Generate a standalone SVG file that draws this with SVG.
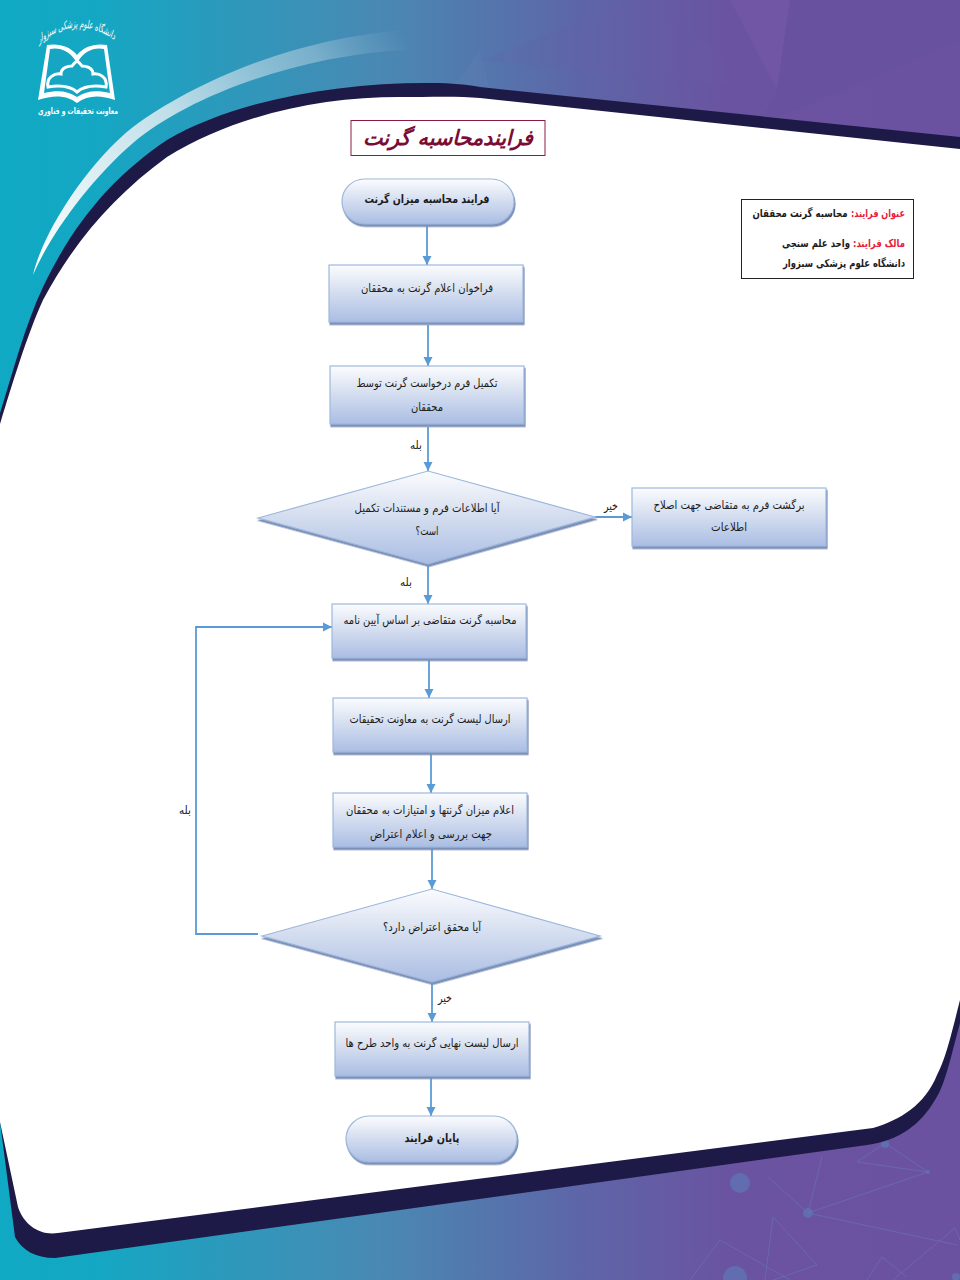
<svg xmlns="http://www.w3.org/2000/svg" width="960" height="1280" viewBox="0 0 960 1280">
<style>
text{font-family:"DejaVu Sans","Noto Sans",sans-serif;direction:rtl;text-anchor:middle;fill:#1c1c1c;font-size:11.5px}
.b{font-weight:bold}
.box{fill:url(#nodeFill);stroke:#9db8dc;stroke-width:1.2;filter:url(#sh)}
.conn{fill:none;stroke:#5b9bd5;stroke-width:1.8}
.arrow{marker-end:url(#ah)}
.net{fill:none;stroke:#6a70b4;stroke-width:1;opacity:.7}
.dot{fill:#5f73b5;opacity:.8}
.info{font-weight:bold;font-size:11px}
.red{fill:#e8203a}
</style>
<defs>
<linearGradient id="bg" x1="0" x2="960" y1="0" y2="0" gradientUnits="userSpaceOnUse">
<stop offset="0" stop-color="#10a9c4"/><stop offset=".1" stop-color="#14a7c3"/><stop offset=".4" stop-color="#4a88b3"/><stop offset=".6" stop-color="#5d66a8"/><stop offset=".76" stop-color="#6a53a0"/><stop offset="1" stop-color="#6a52a0"/>
</linearGradient>
<linearGradient id="swoosh" x1="33" y1="270" x2="410" y2="40" gradientUnits="userSpaceOnUse">
<stop offset="0" stop-color="#fff"/><stop offset=".45" stop-color="#d2e6ee" stop-opacity=".9"/><stop offset=".8" stop-color="#a9c9dc" stop-opacity=".55"/><stop offset="1" stop-color="#8fb0cf" stop-opacity="0"/>
</linearGradient>
<linearGradient id="nodeFill" x1="0" x2="0" y1="0" y2="1">
<stop offset="0" stop-color="#fbfcfe"/><stop offset=".35" stop-color="#dfe6f3"/><stop offset="1" stop-color="#aabde3"/>
</linearGradient>
<filter id="sh" x="-5%" y="-5%" width="110%" height="120%"><feDropShadow dx="1" dy="2.5" stdDeviation=".5" flood-color="#7c8fb8"/></filter>
<marker id="ah" markerUnits="userSpaceOnUse" markerWidth="10" markerHeight="10" refX="9" refY="5" orient="auto"><path d="M0,0.5L9,5L0,9.5Z" fill="#5b9bd5"/></marker>
<path id="logoArc" d="M-95,58Q-5,0 95,52"/>
</defs>

<g id="background">
<rect width="960" height="1280" fill="url(#bg)"/>
<path d="M730,0L777,90L790,0Z" fill="#7a5cab" opacity=".4"/>
<path d="M777,90L760,125L960,40L960,0L790,0Z" fill="#67509d" opacity=".4"/>
<path d="M480,60L777,90L640,0Z" fill="#6a5fa8" opacity=".15"/>
<path d="M455,85L480,50L490,90Z" fill="#7a8cc0" opacity=".12"/>
<path id="swooshShape" d="M33,275C42,235 85,165 133,127C190,85 290,38 407,30L407,50C300,55 190,95 133,143C90,180 50,235 33,275Z" fill="url(#swoosh)"/>
<path class="net" d="M808,1213L928,1172L857,1162L885,1143L928,1172M808,1213L822,1157M808,1213L768,1177M808,1213L957,1245M773,1217L817,1265L773,1280M773,1217L765,1280M720,1240L690,1280M720,1240L790,1280M882,1257L867,1280M882,1257L907,1277M955,1228L893,1280M955,1228L960,1240"/>
<circle class="dot" cx="740" cy="1183" r="10"/><circle class="dot" cx="808" cy="1213" r="5"/><circle class="dot" cx="928" cy="1172" r="2"/><circle class="dot" cx="735" cy="1278" r="12"/><circle class="dot" cx="956" cy="1277" r="4"/><circle class="dot" cx="885" cy="1144" r="4"/>
<path id="band" d="M0,413C12,375 25,325 43,287C75,220 115,175 167,140C235,100 340,82 433,83C450,83 470,85 480,87L960,137L960,1023C950,1060 945,1085 935,1100C920,1125 900,1140 867,1145L55,1258C35,1258 22,1250 15,1237L0,1122Z" fill="#1e1a48"/>
<path id="sheet" d="M0,424C12,385 27,335 43,300C75,240 115,195 167,157C235,115 320,97 400,97C430,97 460,96 480,98L960,149L960,1000C950,1040 945,1060 937,1075C925,1105 900,1120 873,1128L58,1233C40,1236 24,1225 18,1207L0,1122Z" fill="#fff"/>
</g>

<g id="logo">
<path d="M47,45C58,43 70,46 77,55C84,46 96,43 107,45L115,100C100,95 88,95 77,103C66,95 54,95 38,100Z" fill="#fff"/>
<path d="M50,49C60,47 69,51 75,60L77,63L79,60C85,51 94,47 104,49L110,93C96,90 86,91 77,97C68,91 58,90 44,93Z" fill="#16a6c3"/>
<path d="M48,87C46,77 55,73 61,74C61,67 69,66 72,66C74,63 77,61 77,61C77,61 80,63 82,66C85,66 93,67 93,74C99,73 108,77 106,87C94,85 84,86 77,92C70,86 60,85 48,87Z" fill="none" stroke="#fff" stroke-width="3"/>
<g transform="translate(77,0) scale(.55,1)"><text style="fill:#fff;font-size:11.500px;font-style:italic"><textPath href="#logoArc" startOffset="50%">دانشگاه علوم پزشکی سبزوار</textPath></text></g>
<text x="78" y="114" class="b" textLength="80" lengthAdjust="spacingAndGlyphs" style="fill:#fff;font-size:9px">معاونت تحقیقات و فناوری</text>
</g>

<g id="page-title">
<rect x="351" y="120.500" width="194" height="35" fill="#fff" stroke="#8a1c44" stroke-width="1"/>
<text x="448" y="145" class="b" textLength="170" lengthAdjust="spacingAndGlyphs" style="fill:#7a0c35;font-size:21px;font-style:italic">فرایندمحاسبه گرنت</text>
</g>

<g id="info-box">
<rect x="741.500" y="199.500" width="172" height="79" fill="#fff" stroke="#222" stroke-width="1"/>
<text x="878" y="217" class="info red" textLength="54" lengthAdjust="spacingAndGlyphs">عنوان فرایند:</text>
<text x="800" y="217" class="info" textLength="95" lengthAdjust="spacingAndGlyphs">محاسبه گرنت محققان</text>
<text x="879" y="247" class="info red" textLength="52" lengthAdjust="spacingAndGlyphs">مالک فرایند:</text>
<text x="816" y="247" class="info" textLength="68" lengthAdjust="spacingAndGlyphs">واحد علم سنجی</text>
<text x="844" y="267" class="info" textLength="122" lengthAdjust="spacingAndGlyphs">دانشگاه علوم پزشکی سبزوار</text>
</g>

<g id="connectors">
<path class="conn arrow" d="M427,226V265"/>
<path class="conn arrow" d="M428,325V366"/>
<path class="conn arrow" d="M428,427V471"/>
<path class="conn arrow" d="M595,517H632"/>
<path class="conn arrow" d="M428,566V604"/>
<path class="conn arrow" d="M258,934H196V627H332"/>
<path class="conn arrow" d="M429,660V698"/>
<path class="conn arrow" d="M431,754V793"/>
<path class="conn arrow" d="M432,849V889"/>
<path class="conn arrow" d="M432,984V1022"/>
<path class="conn arrow" d="M431,1078V1116"/>
<text x="416" y="449" textLength="12" lengthAdjust="spacingAndGlyphs">بله</text>
<text x="406" y="586" textLength="12" lengthAdjust="spacingAndGlyphs">بله</text>
<text x="611" y="510" textLength="14" lengthAdjust="spacingAndGlyphs">خیر</text>
<text x="185" y="814" textLength="12" lengthAdjust="spacingAndGlyphs">بله</text>
<text x="445" y="1002" textLength="14" lengthAdjust="spacingAndGlyphs">خیر</text>
</g>

<g id="start"><rect class="box" x="342" y="179" width="172" height="45" rx="22.500"/><text class="b" x="427" y="203" textLength="125" lengthAdjust="spacingAndGlyphs">فرایند محاسبه میزان گرنت</text></g>
<g id="n1"><rect class="box" x="329" y="265" width="194" height="57"/><text x="427" y="292" textLength="132" lengthAdjust="spacingAndGlyphs">فراخوان اعلام گرنت به محققان</text></g>
<g id="n2"><rect class="box" x="330" y="366" width="194" height="58"/><text x="427" y="387" textLength="141" lengthAdjust="spacingAndGlyphs">تکمیل فرم درخواست گرنت توسط</text><text x="427" y="411" textLength="32" lengthAdjust="spacingAndGlyphs">محققان</text></g>
<g id="d1"><path class="box" d="M258,518L428,471L595,517L428,564Z"/><text x="427" y="512" textLength="145" lengthAdjust="spacingAndGlyphs">آیا اطلاعات فرم و مستندات تکمیل</text><text x="427" y="535" textLength="23" lengthAdjust="spacingAndGlyphs">است؟</text></g>
<g id="n3"><rect class="box" x="632" y="488" width="194" height="58"/><text x="729" y="509" textLength="151" lengthAdjust="spacingAndGlyphs">برگشت فرم به متقاضی جهت اصلاح</text><text x="729" y="531" textLength="36" lengthAdjust="spacingAndGlyphs">اطلاعات</text></g>
<g id="n4"><rect class="box" x="332" y="604" width="194" height="54"/><text x="430" y="624" textLength="173" lengthAdjust="spacingAndGlyphs">محاسبه گرنت متقاضی بر اساس آیین نامه</text></g>
<g id="n5"><rect class="box" x="333" y="698" width="194" height="54"/><text x="430" y="723" textLength="161" lengthAdjust="spacingAndGlyphs">ارسال لیست گرنت به معاونت تحقیقات</text></g>
<g id="n6"><rect class="box" x="333" y="793" width="194" height="54"/><text x="430" y="814" textLength="168" lengthAdjust="spacingAndGlyphs">اعلام میزان گرنتها و امتیازات به محققان</text><text x="431" y="838" textLength="122" lengthAdjust="spacingAndGlyphs">جهت بررسی و اعلام اعتراض</text></g>
<g id="d2"><path class="box" d="M262,936L432,889L600,936L432,982Z"/><text x="432" y="931" textLength="98" lengthAdjust="spacingAndGlyphs">آیا محقق اعتراض دارد؟</text></g>
<g id="n7"><rect class="box" x="335" y="1022" width="194" height="54"/><text x="432" y="1047" textLength="173" lengthAdjust="spacingAndGlyphs">ارسال لیست نهایی گرنت به واحد طرح ها</text></g>
<g id="end"><rect class="box" x="346" y="1116" width="171" height="46" rx="23"/><text class="b" x="432" y="1142" textLength="55" lengthAdjust="spacingAndGlyphs">پایان فرایند</text></g>
</svg>
